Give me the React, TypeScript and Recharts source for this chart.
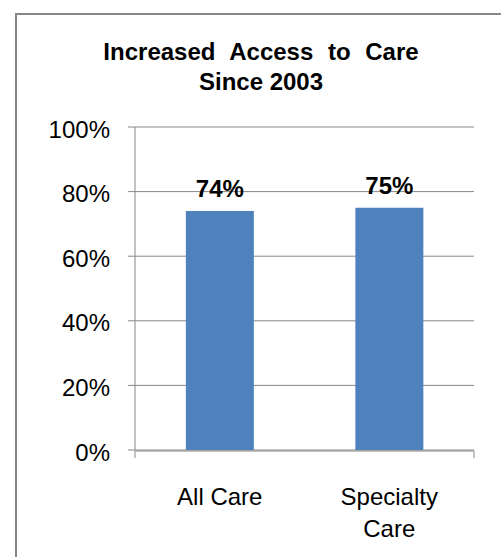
import React from 'react'
import { BarChart, Bar, XAxis, YAxis, CartesianGrid, LabelList } from 'recharts'

const categories = ['All Care', 'Specialty Care']
const categoryLines: Record<string, string[]> = {
  'All Care': ['All Care'],
  'Specialty Care': ['Specialty', 'Care'],
}
const values = [74, 75]
const yTicks = [0, 20, 40, 60, 80, 100]
const edgeTicks = [0, 1, 2]
const titleLines = ['Increased Access to Care', 'Since 2003']

const data = categories.map((name, i) => ({ name, value: values[i] }))

const FONT = '"Liberation Sans", Arial, sans-serif'
const GRAY = '#878787'

const CatTick = ({ x, y, payload }: any) => {
  const lines = categoryLines[payload.value] || [payload.value]
  return (
    <text x={x} y={y} textAnchor="middle" fontSize={24} fontFamily={FONT} fill="#000">
      {lines.map((l, i) => (
        <tspan key={l} x={x} dy={i === 0 ? 17 : 32}>{l}</tspan>
      ))}
    </text>
  )
}

const NoLabel = () => <g />

export default function App() {
  return (
    <div style={{ position: 'absolute', left: 0, top: 0, width: 501, height: 557, background: '#fff', fontFamily: FONT }}>
      <svg width={501} height={557} style={{ position: 'absolute', left: 0, top: 0 }}>
        <line x1={16} y1={14} x2={501} y2={14} stroke={GRAY} strokeWidth={2} />
        <line x1={16} y1={13} x2={16} y2={557} stroke={GRAY} strokeWidth={2} />
        {titleLines.map((t, i) => (
          <text key={t} x={261} y={60 + i * 30} textAnchor="middle" fontSize={24} fontWeight="bold"
            fontFamily={FONT} fill="#000" style={{ wordSpacing: i === 0 ? 8 : 0 }}>
            {t}
          </text>
        ))}
      </svg>
      <div style={{ position: 'absolute', left: 0, top: 0 }}>
        <BarChart width={501} height={557} data={data} margin={{ top: 127, right: 27, bottom: 105, left: 0 }}
          barCategoryGap="30%">
          <CartesianGrid xAxisId="cat" vertical={false} stroke={GRAY} />
          <XAxis xAxisId="cat" dataKey="name" height={1} axisLine={false} tickLine={false}
            tickSize={0} tickMargin={38} tick={<CatTick />} interval={0} />
          <XAxis xAxisId="edge" type="number" domain={[0, 2]} allowDataOverflow ticks={edgeTicks}
            tick={<NoLabel />} tickSize={7} height={1} axisLine={{ stroke: GRAY }}
            tickLine={{ stroke: GRAY }} interval={0} />
          <YAxis domain={[0, 100]} ticks={yTicks} width={135} tickSize={7} tickMargin={18}
            tickFormatter={(v) => `${v}%`} axisLine={{ stroke: GRAY }} tickLine={{ stroke: GRAY }}
            tick={{ fill: '#000', fontSize: 24, fontFamily: FONT, dy: 2 }} />
          <Bar xAxisId="cat" dataKey="value" fill="#4F81BD" isAnimationActive={false}>
            <LabelList dataKey="value" position="top" offset={14} formatter={(v: any) => `${v}%`}
              fill="#000" fontSize={24} fontWeight="bold" fontFamily={FONT} />
          </Bar>
        </BarChart>
      </div>
    </div>
  )
}
